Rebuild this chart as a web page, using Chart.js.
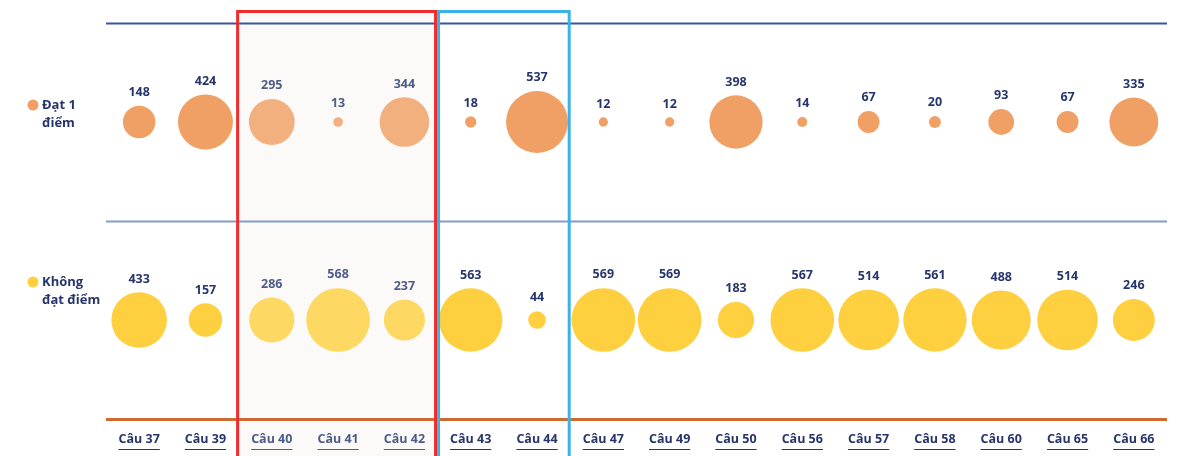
<!DOCTYPE html>
<html lang="vi">
<head>
<meta charset="utf-8">
<script src="https://cdn.jsdelivr.net/npm/chart.js@4"></script>
<style>
  html, body { margin:0; padding:0; background:#fff; }
  #wrap { width:1183px; height:456px; position:relative; }
</style>
</head>
<body>
<div id="wrap"><canvas id="bongBong"></canvas></div>
<script>
// ---------- ADATOK ----------
const cauHoi = ['Câu 37','Câu 39','Câu 40','Câu 41','Câu 42','Câu 43','Câu 44','Câu 47','Câu 49','Câu 50','Câu 56','Câu 57','Câu 58','Câu 60','Câu 65','Câu 66'];
const dat1Diem = [148, 424, 295, 13, 344, 18, 537, 12, 12, 398, 14, 67, 20, 93, 67, 335];
const khongDat = [433, 157, 286, 568, 237, 563, 44, 569, 569, 183, 567, 514, 561, 488, 514, 246];

// kiemelt csoportok (index tartomány)
const nhomDo = [2, 4];    // Câu 40 - 42
const nhomXanh = [5, 6];  // Câu 43 - 44

const SZIN = {
  cam: '#f0a064', camHalvany: '#f3b07f',
  vang: '#fecf3f', vangHalvany: '#fdd862',
  chu: '#27356b', chuHalvany: '#4d5c88',
  vonalFelso: '#3b54a0', vonalKozep: '#829bc9', vonalAlso: '#cd6a34',
  piros: '#ef2b2b', kek: '#3bb2e6', hatter: '#fcfaf8'
};
const FONT = "'Open Sans', 'Noto Sans', sans-serif";
const K = 1.336; // sugár = K * sqrt(érték)

function halvany(i){ return i >= nhomDo[0] && i <= nhomDo[1]; }

function bubbleAdat(ertekek, sor){
  return ertekek.map((v, i) => ({ x: cauHoi[i], y: sor, r: K * Math.sqrt(v), v: v }));
}

function hatarX(x, i){ return (x.getPixelForValue(i) + x.getPixelForValue(i + 1)) / 2; }

// ---------- SAJÁT RAJZOLÓ PLUGIN ----------
const diszitesPlugin = {
  id: 'diszites',
  beforeDraw(chart){
    // halvány háttér a piros keretben (a címkék alá)
    const { ctx, scales:{ x } } = chart;
    const bal = hatarX(x, nhomDo[0] - 1), jobb = hatarX(x, nhomDo[1]);
    ctx.save();
    ctx.fillStyle = SZIN.hatter;
    ctx.fillRect(bal, 11, jobb - bal, chart.height);
    ctx.restore();
  },
  beforeDatasetsDraw(chart){
    const { ctx, chartArea, scales:{ y } } = chart;
    ctx.save();
    const vonal = (val, szin, w) => {
      const py = Math.round(y.getPixelForValue(val)) + 0.5;
      ctx.strokeStyle = szin; ctx.lineWidth = w;
      ctx.beginPath(); ctx.moveTo(chartArea.left, py); ctx.lineTo(chartArea.right, py); ctx.stroke();
    };
    vonal(1.5, SZIN.vonalFelso, 2);
    vonal(0.5, SZIN.vonalKozep, 2);
    vonal(-0.5, SZIN.vonalAlso, 3);
    ctx.restore();
  },
  afterDatasetsDraw(chart){
    const { ctx, scales:{ x, y } } = chart;
    ctx.save();
    ctx.font = `bold 12.5px ${FONT}`;
    ctx.textAlign = 'center';
    ctx.textBaseline = 'bottom';
    chart.data.datasets.forEach((ds, di) => {
      const meta = chart.getDatasetMeta(di);
      meta.data.forEach((pt, i) => {
        const d = ds.data[i];
        ctx.fillStyle = halvany(i) ? SZIN.chuHalvany : SZIN.chu;
        ctx.fillText(String(d.v), pt.x, pt.y - d.r - 7);
      });
    });

    // keretek
    ctx.lineWidth = 3;
    ctx.strokeStyle = SZIN.piros;
    const pBal = hatarX(x, nhomDo[0] - 1) - 1, pJobb = hatarX(x, nhomDo[1]) - 2;
    ctx.strokeRect(pBal, 11.5, pJobb - pBal, chart.height);
    ctx.strokeStyle = SZIN.kek;
    const kBal = hatarX(x, nhomXanh[0] - 1) + 1, kJobb = hatarX(x, nhomXanh[1]) - 1;
    ctx.strokeRect(kBal, 11.5, kJobb - kBal, chart.height);

    // jelmagyarázat bal oldalt
    const sorok = [
      { val: 1, szin: SZIN.cam, szoveg: ['Đạt 1', 'điểm'], dy: -17 },
      { val: 0, szin: SZIN.vang, szoveg: ['Không', 'đạt điểm'], dy: -38 }
    ];
    ctx.textAlign = 'left';
    ctx.textBaseline = 'middle';
    ctx.font = `bold 13px ${FONT}`;
    sorok.forEach(s => {
      const py = y.getPixelForValue(s.val) + s.dy;
      ctx.fillStyle = s.szin;
      ctx.beginPath(); ctx.arc(33, py, 5.5, 0, Math.PI * 2); ctx.fill();
      ctx.fillStyle = SZIN.chu;
      s.szoveg.forEach((t, j) => ctx.fillText(t, 42, py + j * 18));
    });

    // aláhúzás a kategória címkék alatt
    ctx.font = `bold 12.5px ${FONT}`;
    const alapY = chart.chartArea.bottom + 30;
    cauHoi.forEach((c, i) => {
      const w = ctx.measureText(c).width;
      const px = x.getPixelForValue(i);
      ctx.strokeStyle = halvany(i) ? SZIN.chuHalvany : SZIN.chu;
      ctx.lineWidth = 1;
      ctx.beginPath(); ctx.moveTo(px - w / 2, alapY + 0.5); ctx.lineTo(px + w / 2, alapY + 0.5); ctx.stroke();
    });
    ctx.restore();
  }
};

// ---------- GRAFIKON ----------
new Chart(document.getElementById('bongBong').getContext('2d'), {
  type: 'bubble',
  data: {
    labels: cauHoi,
    datasets: [
      {
        label: 'Đạt 1 điểm',
        data: bubbleAdat(dat1Diem, 1),
        backgroundColor: (c) => halvany(c.dataIndex) ? SZIN.camHalvany : SZIN.cam,
        borderWidth: 0
      },
      {
        label: 'Không đạt điểm',
        data: bubbleAdat(khongDat, 0),
        backgroundColor: (c) => halvany(c.dataIndex) ? SZIN.vangHalvany : SZIN.vang,
        borderWidth: 0
      }
    ]
  },
  options: {
    responsive: true,
    maintainAspectRatio: false,
    animation: false,
    layout: { autoPadding: false, padding: { left: 106, right: 16, top: 23, bottom: 0 } },
    plugins: { legend: { display: false }, tooltip: { enabled: false } },
    scales: {
      x: {
        type: 'category',
        offset: true,
        afterFit: (scale) => { scale.height = 37; },
        grid: { display: false, drawTicks: false },
        border: { display: false },
        ticks: {
          padding: 13,
          autoSkip: false,
          maxRotation: 0,
          color: (c) => halvany(c.index) ? SZIN.chuHalvany : SZIN.chu,
          font: { family: FONT, size: 12.5, weight: 'bold' }
        }
      },
      y: { display: false, min: -0.5, max: 1.5 }
    }
  },
  plugins: [diszitesPlugin]
});
</script>
</body>
</html>
